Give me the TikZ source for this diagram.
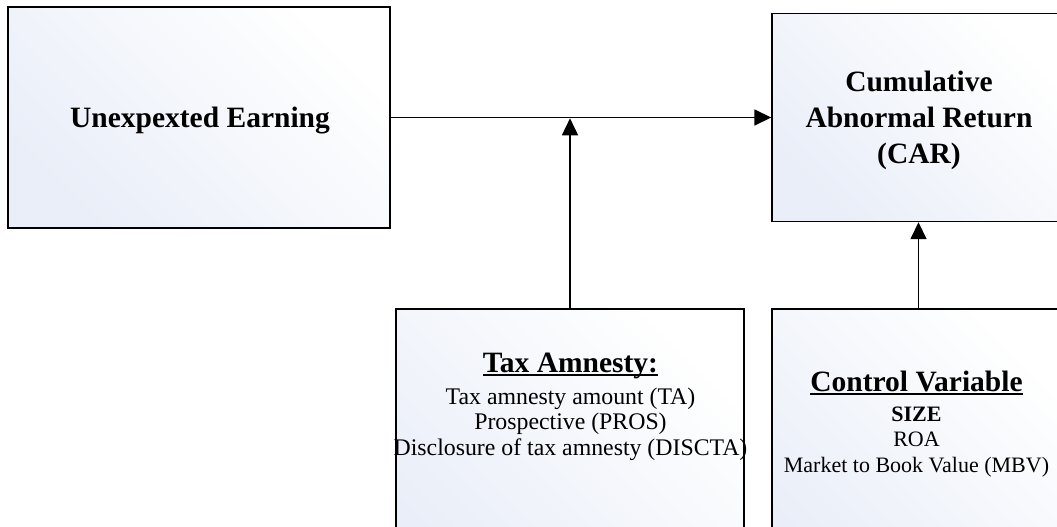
\documentclass[tikz,border=0pt]{standalone}
\usepackage{fontspec}
\setmainfont{Liberation Serif}
\usetikzlibrary{arrows.meta,positioning}
\definecolor{paneltint}{RGB}{233,238,248}
\newcommand{\ulbar}[1]{\setbox0\hbox{#1}\rlap{\rule[-3.5pt]{\wd0}{1.6pt}}\box0}
\tikzset{
    panel/.style={draw=black,line width=1.4pt,top color=paneltint,bottom color=white,shading angle=135,inner sep=0pt},
    link/.style={line width=1.6pt,-{Triangle[length=17pt,width=16pt]}},
    headtext/.style={font=\fontsize{29.5}{36}\selectfont\bfseries,align=center,inner sep=0pt},
    bodytext/.style={font=\fontsize{23.8}{25.5}\selectfont,align=center,inner sep=0pt}
}
\begin{document}
\begin{tikzpicture}[x=1pt,y=-1pt]
    \useasboundingbox (0,0) rectangle (1057,527);
    % boxes
    \node [panel,minimum width=382pt,minimum height=221pt] (ue) at (199,117.5) {};
    \node [panel,minimum width=293pt,minimum height=208pt] (car) at (918.5,117.5) {};
    \node [panel,minimum width=348pt,minimum height=291pt] (ta) at (570,454.5) {};
    \node [panel,minimum width=293pt,minimum height=291pt] (cv) at (918.5,454.5) {};
    % texts (base = last line)
    \node [headtext,anchor=base] (ueText) at (200,127) {Unexpexted Earning};
    \node [headtext,anchor=base] (carText) at (919,163) {Cumulative\\Abnormal Return\\(CAR)};
    \node [bodytext,anchor=base] (taText) at (570.5,455) {{\fontsize{29.5}{32}\selectfont\bfseries\ulbar{Tax Amnesty:}}\\[6pt]Tax amnesty amount (TA)\\Prospective (PROS)\\Disclosure of tax amnesty (DISCTA)};
    \node [bodytext,font=\fontsize{22}{25.5}\selectfont,anchor=base] (cvText) at (916.5,472) {{\fontsize{29.5}{32}\selectfont\bfseries\ulbar{Control Variable}}\\[4pt]\textbf{SIZE}\\ROA\\Market to Book Value (MBV)};
    % connectors
    \coordinate (join) at (ta.north |- ue.east);
    \draw [link] (ue.east) -- (car.west);
    \draw [link,shorten >=0.8pt] (ta.north) -- (join);
    \draw [link] (cv.north) -- (car.south);
\end{tikzpicture}
\end{document}
